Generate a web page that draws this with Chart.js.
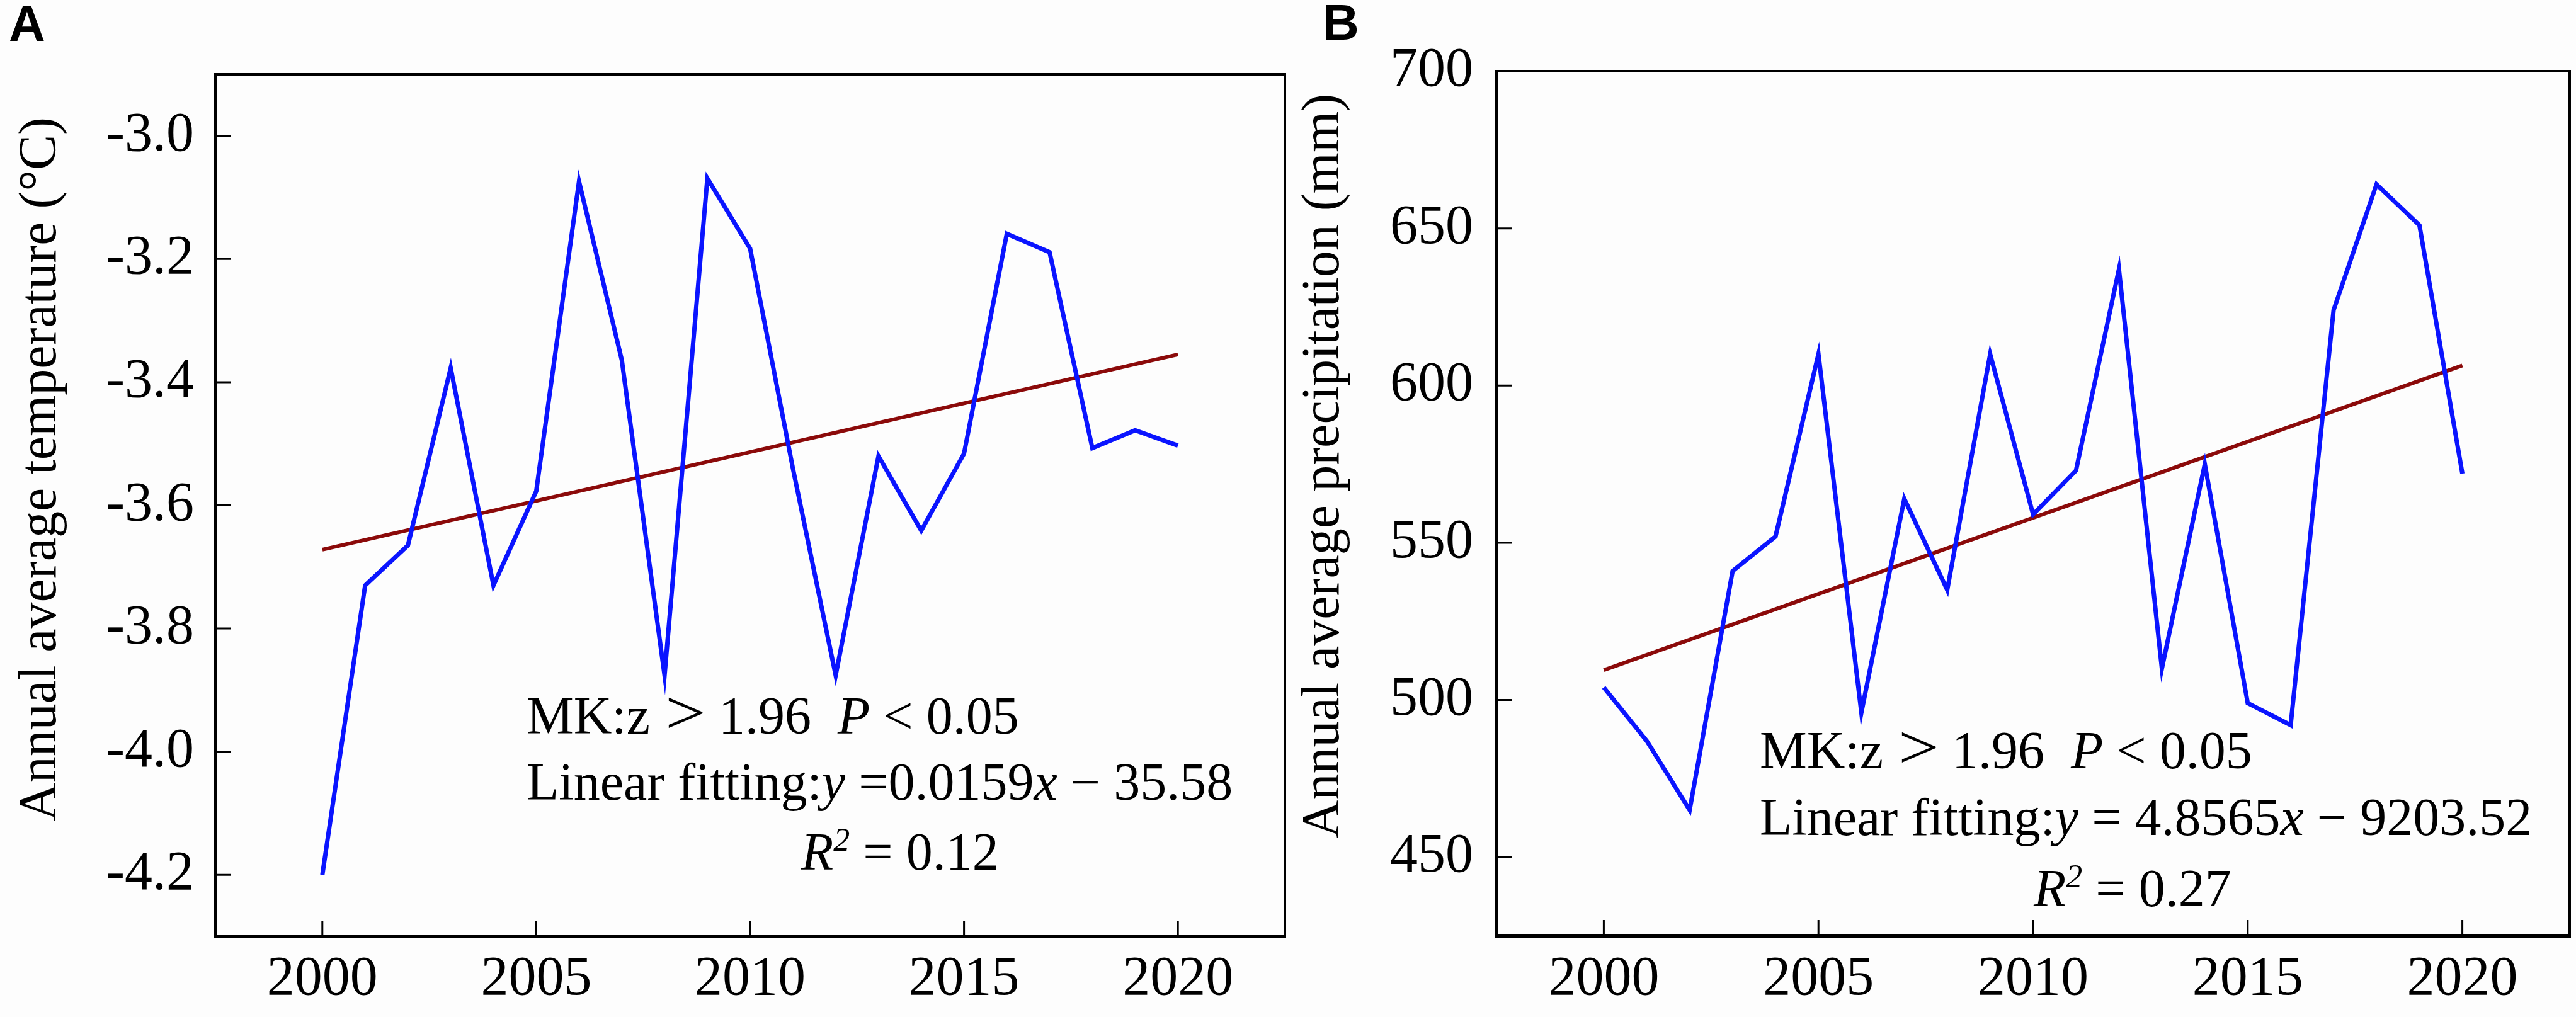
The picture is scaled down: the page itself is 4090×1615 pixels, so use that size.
<!DOCTYPE html>
<html>
<head>
<meta charset="utf-8">
<script src="https://cdn.jsdelivr.net/npm/chart.js@4.4.1/dist/chart.umd.min.js"></script>
<style>
  html, body { margin: 0; padding: 0; background: #fdfdfd; }
  #wrap { position: relative; width: 4090px; height: 1615px; overflow: hidden; background: #fdfdfd; }
  .panel { position: absolute; top: 0; width: 2045px; height: 1615px; }
</style>
</head>
<body>
<div id="wrap">
  <div class="panel" style="left:0"><canvas id="cA" width="2045" height="1615"></canvas></div>
  <div class="panel" style="left:2045px"><canvas id="cB" width="2045" height="1615"></canvas></div>
</div>
<script>
// ---------------- DATA ----------------
const years = [2000, 2001, 2002, 2003, 2004, 2005, 2006, 2007, 2008, 2009, 2010,
               2011, 2012, 2013, 2014, 2015, 2016, 2017, 2018, 2019, 2020];
const temperature = [-4.20, -3.73, -3.665, -3.377, -3.73, -3.577, -3.074, -3.364, -3.876, -3.069, -3.183,
                     -3.54, -3.876, -3.52, -3.641, -3.516, -3.159, -3.189, -3.507, -3.478, -3.503];
const precipitation = [504, 487, 465, 541, 552, 610, 496, 564, 535, 610, 559,
                       573, 637, 510, 575, 499, 492, 624, 664, 651, 572];
const trendYears = [2000, 2020];
const temperatureTrend = [-3.672, -3.355];
const precipitationTrend = [509.5, 606.4];
const xTickValues = [2000, 2005, 2010, 2015, 2020];
const temperatureTicks = [-4.2, -4.0, -3.8, -3.6, -3.4, -3.2, -3.0];
const precipitationTicks = [450, 500, 550, 600, 650, 700];

// ---------------- STYLE ----------------
const SERIF = "'Liberation Serif', 'Times New Roman', serif";
const SANS = "'Liberation Sans', Arial, sans-serif";
const BLUE = '#0a14ff';
const RED = '#8b0a0a';

function font(size, italic, family, bold) {
  return (italic ? 'italic ' : '') + (bold ? 'bold ' : '') + size + 'px ' + (family || SERIF);
}

// draw a sequence of text runs; optional horizontal stretch (sx), lift (dy), fixed advance (adv, px), lead offset (off)
function drawRuns(ctx, x, y, runs) {
  let cx = x;
  for (const r of runs) {
    ctx.font = font(r.size || 84, r.italic);
    const sx = r.sx || 1;
    ctx.save();
    ctx.translate(cx + (r.off || 0), y - (r.dy || 0));
    ctx.scale(sx, 1);
    ctx.fillText(r.t, 0, 0);
    ctx.restore();
    cx += r.adv != null ? r.adv : ctx.measureText(r.t).width * sx;
  }
}

const framePlugin = {
  id: 'frame',
  afterDraw(chart, args, o) {
    const ctx = chart.ctx;
    const { left, right, top, bottom } = chart.chartArea;
    const xs = chart.scales.x, ys = chart.scales.y;
    ctx.save();
    ctx.fillStyle = '#000';
    ctx.strokeStyle = '#000';
    // inward tick marks
    ctx.lineWidth = 3;
    ctx.beginPath();
    for (const t of xs.ticks) {
      const px = xs.getPixelForValue(t.value);
      ctx.moveTo(px, bottom); ctx.lineTo(px, bottom - 25);
    }
    for (const t of ys.ticks) {
      const py = ys.getPixelForValue(t.value);
      ctx.moveTo(left, py); ctx.lineTo(left + 25, py);
    }
    ctx.stroke();
    // frame
    ctx.lineWidth = 4;
    ctx.beginPath();
    ctx.moveTo(left, bottom); ctx.lineTo(left, top); ctx.lineTo(right, top); ctx.lineTo(right, bottom);
    ctx.stroke();
    ctx.lineWidth = 6;
    ctx.beginPath();
    ctx.moveTo(left - 2, bottom); ctx.lineTo(right + 2, bottom);
    ctx.stroke();

    // panel letter
    ctx.textAlign = 'left';
    ctx.textBaseline = 'alphabetic';
    ctx.font = font(80, false, SANS, true);
    ctx.fillText(o.letter, o.letterX, o.letterY);

    // axis title (rotated)
    ctx.save();
    ctx.translate(o.titleX, o.titleY);
    ctx.rotate(-Math.PI / 2);
    ctx.textAlign = 'center';
    ctx.font = font(84);
    ctx.fillText(o.title, 0, 0);
    ctx.restore();

    // annotation
    ctx.textAlign = 'left';
    drawRuns(ctx, o.ann.x1, o.ann.y1, [
      { t: 'MK:z ' }, { t: '>', size: 100, sx: 1.15, off: 3, adv: 88 }, { t: '1.96  ' },
      { t: 'P', italic: true }, { t: ' < 0.05' }
    ]);
    drawRuns(ctx, o.ann.x1, o.ann.y2, [
      { t: 'Linear fitting:' }, { t: 'y', italic: true }, { t: o.ann.coef },
      { t: 'x', italic: true }, { t: o.ann.icpt }
    ]);
    drawRuns(ctx, o.ann.x3, o.ann.y3, [
      { t: 'R', italic: true }, { t: '2', italic: true, size: 52, dy: 30 }, { t: o.ann.r2 }
    ]);
    ctx.restore();
  }
};

function makeChart(canvasId, values, trend, yMin, yMax, yTicks, decimals, layout, plug) {
  const pts = years.map((yr, i) => ({ x: yr, y: values[i] }));
  const tpts = trendYears.map((yr, i) => ({ x: yr, y: trend[i] }));
  return new Chart(document.getElementById(canvasId), {
    type: 'line',
    data: {
      datasets: [
        { data: pts, borderColor: BLUE, borderWidth: 7, pointRadius: 0, tension: 0, fill: false, borderJoinStyle: 'miter' },
        { data: tpts, borderColor: RED, borderWidth: 6, pointRadius: 0, tension: 0, fill: false }
      ]
    },
    options: {
      responsive: false,
      animation: false,
      devicePixelRatio: 1,
      layout: { padding: layout.padding },
      plugins: { legend: { display: false }, tooltip: { enabled: false }, frame: plug },
      scales: {
        x: {
          type: 'linear', min: 1997.5, max: 2022.5,
          grid: { display: false, drawTicks: false },
          border: { display: false },
          afterBuildTicks: s => { s.ticks = xTickValues.map(v => ({ value: v })); },
          afterFit: s => { s.height = layout.xHeight; },
          ticks: { color: '#000', font: { family: SERIF, size: 88 }, padding: layout.xPad, maxRotation: 0,
                   callback: v => String(v) }
        },
        y: {
          type: 'linear', min: yMin, max: yMax,
          grid: { display: false, drawTicks: false },
          border: { display: false },
          afterBuildTicks: s => { s.ticks = yTicks.map(v => ({ value: v })); },
          afterFit: s => { s.width = layout.yWidth; },
          ticks: { color: '#000', font: { family: SERIF, size: 88 }, padding: layout.yPad,
                   callback: v => Number(v).toFixed(decimals) }
        }
      }
    },
    plugins: [framePlugin]
  });
}

makeChart('cA', temperature, temperatureTrend, -4.3, -2.9, temperatureTicks, 1,
  { padding: { left: 0, top: 118, right: 5, bottom: 0 }, xHeight: 128, yWidth: 342, xPad: 16, yPad: 34 },
  { letter: 'A', letterX: 14, letterY: 65,
    title: 'Annual average temperature (\u00B0C)', titleX: 88, titleY: 745,
    ann: { x1: 836, y1: 1165, y2: 1270, x3: 1272, y3: 1381,
           coef: ' =0.0159', icpt: ' \u2212 35.58', r2: ' = 0.12' } });

makeChart('cB', precipitation, precipitationTrend, 425, 700, precipitationTicks, 0,
  { padding: { left: 0, top: 113, right: 10, bottom: 0 }, xHeight: 129, yWidth: 331, xPad: 17, yPad: 37 },
  { letter: 'B', letterX: 55, letterY: 63,
    title: 'Annual average precipitation (mm)', titleX: 80, titleY: 740,
    ann: { x1: 749, y1: 1220, y2: 1326, x3: 1184, y3: 1439,
           coef: ' = 4.8565', icpt: ' \u2212 9203.52', r2: ' = 0.27' } });
</script>
</body>
</html>
